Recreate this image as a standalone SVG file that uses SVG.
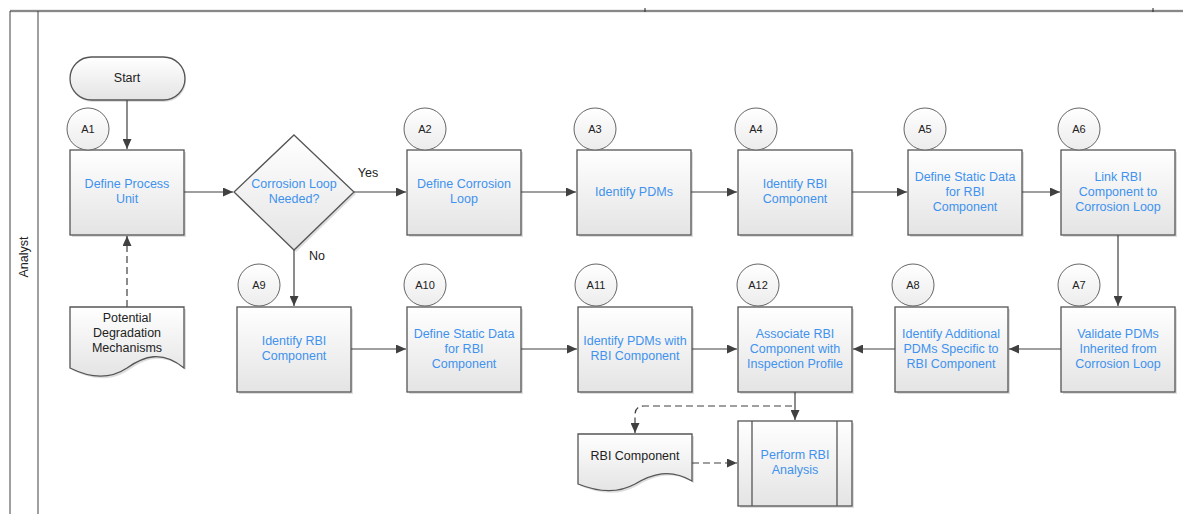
<svg xmlns="http://www.w3.org/2000/svg" width="1183" height="514" viewBox="0 0 1183 514">
<defs>
<linearGradient id="g" x1="0" y1="0" x2="0" y2="1"><stop offset="0" stop-color="#ffffff"/><stop offset="1" stop-color="#e4e4e4"/></linearGradient>
<linearGradient id="gc" x1="0" y1="0" x2="0" y2="1"><stop offset="0" stop-color="#ffffff"/><stop offset="1" stop-color="#ececec"/></linearGradient>
<marker id="ah" markerUnits="userSpaceOnUse" markerWidth="10" markerHeight="9" refX="10" refY="4.5" orient="auto"><path d="M0,0 L10,4.5 L0,9 Z" fill="#404040"/></marker>
</defs>
<style>
.box{fill:url(#g);stroke:#555;stroke-width:1.3}
.sh{fill:#000;opacity:0.13}
.circ{fill:url(#gc);stroke:#666;stroke-width:1}
.t{font-family:"Liberation Sans",Arial,sans-serif;font-size:12.5px;fill:#3f92ee;text-anchor:middle}
.d{font-family:"Liberation Sans",Arial,sans-serif;font-size:12.5px;fill:#222;text-anchor:middle}
.l{font-family:"Liberation Sans",Arial,sans-serif;font-size:11px;fill:#222;text-anchor:middle}
.c{fill:none;stroke:#404040;stroke-width:1.2;marker-end:url(#ah)}
.dash{stroke-dasharray:7,4}
.lane{stroke:#404040;stroke-width:1;fill:none}
</style>
<g id="lane">
<rect x="10" y="9" width="1173" height="4" fill="#ececec"/>
<line x1="10" y1="11" x2="1183" y2="11" stroke="#888" stroke-width="2"/>
<line x1="645" y1="8" x2="645" y2="12" stroke="#222"/>
<line x1="1153" y1="8" x2="1153" y2="12" stroke="#222"/>
<line class="lane" x1="10" y1="11" x2="10" y2="514"/>
<line class="lane" x1="38" y1="11" x2="38" y2="514"/>
<text class="d" transform="translate(28,257) rotate(-90)" font-size="12">Analyst</text>
</g>
<g id="connectors">
<path class="c" d="M127,100 V149"/>
<path class="c" d="M184,192 H233"/>
<path class="c" d="M354,192 H406"/>
<path class="c" d="M521,192 H576"/>
<path class="c" d="M691,192 H737"/>
<path class="c" d="M852,192 H907"/>
<path class="c" d="M1022,192 H1060"/>
<path class="c" d="M1118,235 V306"/>
<path class="c" d="M1061,349 H1009"/>
<path class="c" d="M895,349 H853"/>
<path class="c" d="M294,250 V306"/>
<path class="c" d="M351,349 H406"/>
<path class="c" d="M521,349 H577"/>
<path class="c" d="M692,349 H737"/>
<path class="c" d="M795,392 V420"/>
<path class="c dash" d="M127,307 V236"/>
<path class="c dash" d="M792,406 H644 Q635,406 635,415 V433"/>
<path class="c dash" d="M692,463 H737"/>
<text class="d" x="368" y="177">Yes</text>
<text class="d" x="317" y="260">No</text>
</g>
<g id="start">
<rect x="71" y="59" width="115" height="43" rx="21.5" class="sh"/>
<rect x="70" y="57" width="115" height="43" rx="21.5" class="box"/>
<text class="d" x="127" y="82">Start</text>
</g>
<g id="a1">
<rect x="72" y="152" width="114" height="85" class="sh"/>
<rect x="70" y="150" width="114" height="85" class="box"/>
<text class="t" x="127" y="188">Define Process</text><text class="t" x="127" y="203">Unit</text>
<circle cx="88" cy="129" r="21" class="circ"/><text class="l" x="88" y="133">A1</text>
</g>
<g id="decision">
<path d="M296,137 L356,194 L296,252 L236,194 Z" class="sh"/>
<path d="M294,135 L354,192 L294,250 L234,192 Z" class="box"/>
<text class="t" x="294" y="188">Corrosion Loop</text><text class="t" x="294" y="203">Needed?</text>
</g>
<g id="a2">
<rect x="409" y="152" width="114" height="85" class="sh"/>
<rect x="407" y="150" width="114" height="85" class="box"/>
<text class="t" x="464" y="188">Define Corrosion</text><text class="t" x="464" y="203">Loop</text>
<circle cx="425" cy="129" r="21" class="circ"/><text class="l" x="425" y="133">A2</text>
</g>
<g id="a3">
<rect x="579" y="152" width="114" height="85" class="sh"/>
<rect x="577" y="150" width="114" height="85" class="box"/>
<text class="t" x="634" y="196">Identify PDMs</text>
<circle cx="595" cy="129" r="21" class="circ"/><text class="l" x="595" y="133">A3</text>
</g>
<g id="a4">
<rect x="740" y="152" width="114" height="85" class="sh"/>
<rect x="738" y="150" width="114" height="85" class="box"/>
<text class="t" x="795" y="188">Identify RBI</text><text class="t" x="795" y="203">Component</text>
<circle cx="756" cy="129" r="21" class="circ"/><text class="l" x="756" y="133">A4</text>
</g>
<g id="a5">
<rect x="910" y="152" width="114" height="85" class="sh"/>
<rect x="908" y="150" width="114" height="85" class="box"/>
<text class="t" x="965" y="181">Define Static Data</text><text class="t" x="965" y="196">for RBI</text><text class="t" x="965" y="211">Component</text>
<circle cx="925" cy="129" r="21" class="circ"/><text class="l" x="925" y="133">A5</text>
</g>
<g id="a6">
<rect x="1063" y="152" width="114" height="85" class="sh"/>
<rect x="1061" y="150" width="114" height="85" class="box"/>
<text class="t" x="1118" y="181">Link RBI</text><text class="t" x="1118" y="196">Component to</text><text class="t" x="1118" y="211">Corrosion Loop</text>
<circle cx="1079" cy="129" r="21" class="circ"/><text class="l" x="1079" y="133">A6</text>
</g>
<g id="a7">
<rect x="1063" y="309" width="114" height="85" class="sh"/>
<rect x="1061" y="307" width="114" height="85" class="box"/>
<text class="t" x="1118" y="338">Validate PDMs</text><text class="t" x="1118" y="353">Inherited from</text><text class="t" x="1118" y="368">Corrosion Loop</text>
<circle cx="1079" cy="285" r="21" class="circ"/><text class="l" x="1079" y="289">A7</text>
</g>
<g id="a8">
<rect x="897" y="309" width="113" height="85" class="sh"/>
<rect x="895" y="307" width="113" height="85" class="box"/>
<text class="t" x="951" y="338">Identify Additional</text><text class="t" x="951" y="353">PDMs Specific to</text><text class="t" x="951" y="368">RBI Component</text>
<circle cx="913" cy="285" r="21" class="circ"/><text class="l" x="913" y="289">A8</text>
</g>
<g id="a9">
<rect x="239" y="309" width="114" height="85" class="sh"/>
<rect x="237" y="307" width="114" height="85" class="box"/>
<text class="t" x="294" y="345">Identify RBI</text><text class="t" x="294" y="360">Component</text>
<circle cx="259" cy="285" r="21" class="circ"/><text class="l" x="259" y="289">A9</text>
</g>
<g id="a10">
<rect x="409" y="309" width="114" height="85" class="sh"/>
<rect x="407" y="307" width="114" height="85" class="box"/>
<text class="t" x="464" y="338">Define Static Data</text><text class="t" x="464" y="353">for RBI</text><text class="t" x="464" y="368">Component</text>
<circle cx="425" cy="285" r="21" class="circ"/><text class="l" x="425" y="289">A10</text>
</g>
<g id="a11">
<rect x="580" y="309" width="114" height="85" class="sh"/>
<rect x="578" y="307" width="114" height="85" class="box"/>
<text class="t" x="635" y="345">Identify PDMs with</text><text class="t" x="635" y="360">RBI Component</text>
<circle cx="596" cy="285" r="21" class="circ"/><text class="l" x="596" y="289">A11</text>
</g>
<g id="a12">
<rect x="740" y="309" width="114" height="85" class="sh"/>
<rect x="738" y="307" width="114" height="85" class="box"/>
<text class="t" x="795" y="338">Associate RBI</text><text class="t" x="795" y="353">Component with</text><text class="t" x="795" y="368">Inspection Profile</text>
<circle cx="758" cy="285" r="21" class="circ"/><text class="l" x="758" y="289">A12</text>
</g>
<g id="pdm-doc">
<path d="M72,309 H186 V370 C164,352 146,358 129,370 C111,382 92,380 72,370 Z" class="sh"/>
<path d="M70,307 H184 V368 C162,350 144,356 127,368 C109,380 90,378 70,368 Z" class="box"/>
<text class="d" x="127" y="322">Potential</text><text class="d" x="127" y="337">Degradation</text><text class="d" x="127" y="352">Mechanisms</text>
</g>
<g id="rbi-doc">
<path d="M580,436 H694 V483 C672,470 654,476 637,486 C619,496 600,494 580,486 Z" class="sh"/>
<path d="M578,434 H692 V481 C670,468 652,474 635,484 C617,494 598,492 578,484 Z" class="box"/>
<text class="d" x="635" y="460">RBI Component</text>
</g>
<g id="perform">
<rect x="740" y="423" width="114" height="85" class="sh"/>
<rect x="738" y="421" width="114" height="85" class="box"/>
<line x1="752" y1="421" x2="752" y2="506" stroke="#555" stroke-width="1.3"/>
<line x1="837" y1="421" x2="837" y2="506" stroke="#555" stroke-width="1.3"/>
<text class="t" x="795" y="459">Perform RBI</text><text class="t" x="795" y="474">Analysis</text>
</g>
</svg>
